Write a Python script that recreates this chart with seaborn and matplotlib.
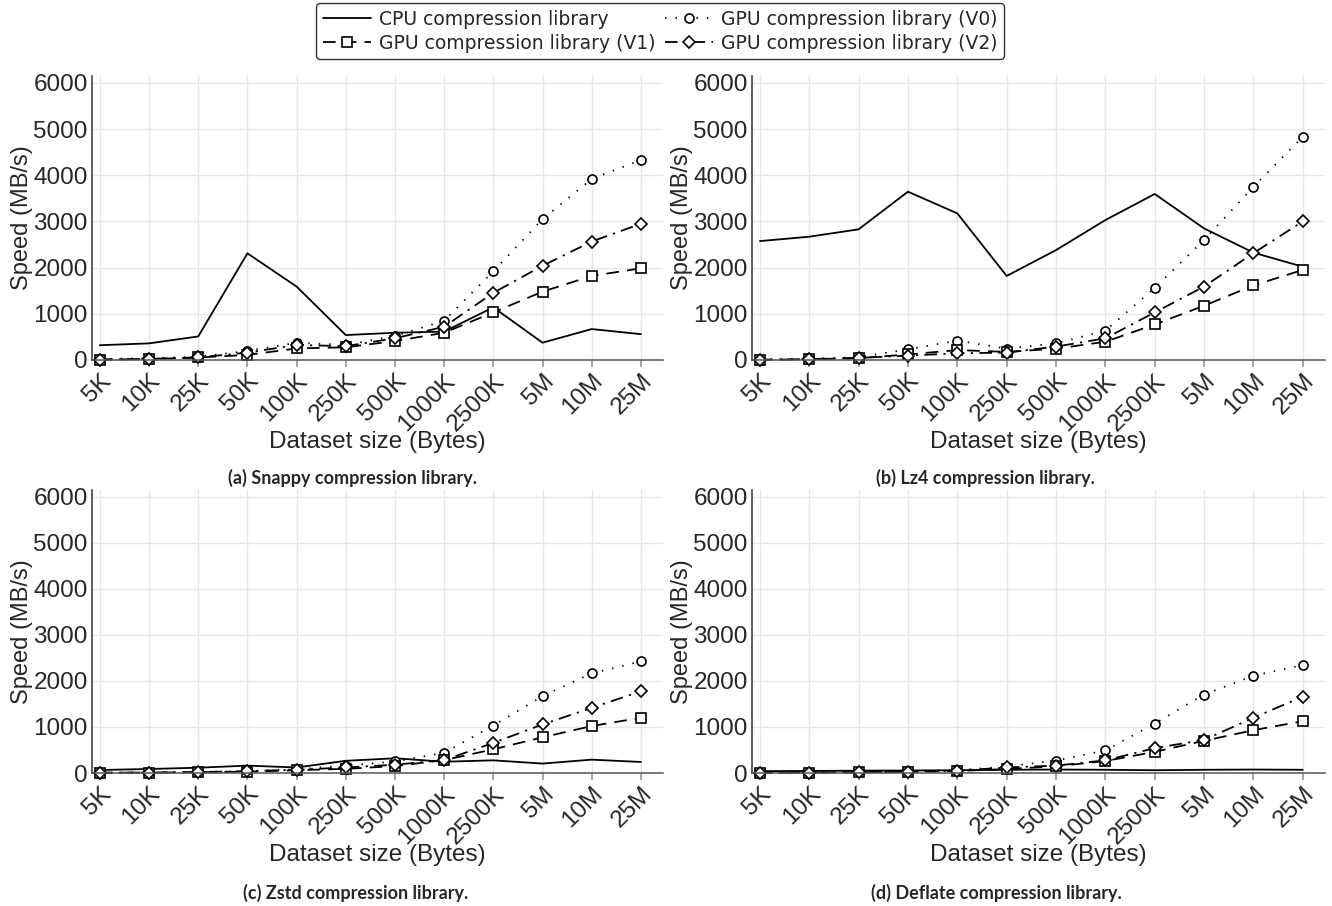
import numpy as np
import pandas as pd
import matplotlib
matplotlib.use("Agg")
import matplotlib.pyplot as plt
import seaborn as sns

sizes = ["5K", "10K", "25K", "50K", "100K", "250K", "500K", "1000K", "2500K", "5M", "10M", "25M"]
series_names = ["CPU compression library", "GPU compression library (V0)",
                "GPU compression library (V1)", "GPU compression library (V2)"]

# (a) Snappy
snappy_cpu = [320, 360, 510, 2310, 1590, 540, 590, 615, 1140, 375, 670, 560]
snappy_v0 = [20, 40, 70, 195, 375, 325, 520, 850, 1920, 3050, 3920, 4330]
snappy_v1 = [10, 20, 55, 110, 250, 275, 410, 590, 1030, 1480, 1820, 1985]
snappy_v2 = [10, 25, 55, 160, 325, 300, 470, 720, 1455, 2040, 2565, 2950]

# (b) Lz4
lz4_cpu = [2575, 2670, 2830, 3645, 3175, 1820, 2380, 3030, 3595, 2850, 2325, 2020]
lz4_v0 = [10, 30, 60, 230, 420, 245, 360, 635, 1560, 2600, 3750, 4835]
lz4_v1 = [5, 15, 40, 120, 215, 175, 245, 395, 770, 1175, 1615, 1950]
lz4_v2 = [5, 20, 45, 95, 145, 160, 290, 470, 1030, 1590, 2315, 3000]

# (c) Zstd
zstd_cpu = [65, 87, 115, 160, 120, 265, 320, 245, 275, 205, 290, 240]
zstd_v0 = [5, 10, 20, 40, 80, 160, 250, 440, 1030, 1670, 2165, 2425]
zstd_v1 = [5, 10, 15, 30, 60, 90, 150, 280, 515, 775, 1020, 1200]
zstd_v2 = [5, 10, 20, 40, 70, 120, 180, 280, 655, 1055, 1415, 1775]

# (d) Deflate
deflate_cpu = [40, 45, 50, 55, 60, 70, 75, 70, 60, 70, 75, 70]
deflate_v0 = [5, 10, 20, 35, 60, 140, 270, 490, 1075, 1705, 2115, 2345]
deflate_v1 = [5, 10, 15, 25, 45, 85, 145, 260, 460, 700, 930, 1125]
deflate_v2 = [5, 10, 15, 30, 50, 120, 160, 275, 540, 720, 1200, 1660]

captions = ["(a) Snappy compression library.", "(b) Lz4 compression library.",
            "(c) Zstd compression library.", "(d) Deflate compression library."]
y_ticks = [0, 1000, 2000, 3000, 4000, 5000, 6000]

panels = [
    [snappy_cpu, snappy_v0, snappy_v1, snappy_v2],
    [lz4_cpu, lz4_v0, lz4_v1, lz4_v2],
    [zstd_cpu, zstd_v0, zstd_v1, zstd_v2],
    [deflate_cpu, deflate_v0, deflate_v1, deflate_v2],
]

sns.set_theme(style="white")
plt.rcParams["font.family"] = ["Liberation Sans", "DejaVu Sans"]

styles = [
    dict(linestyle="-", marker=None),
    dict(linestyle=(0, (0.8, 5.0)), marker="o", markersize=6.5),
    dict(linestyle=(0, (7, 4.5)), marker="s", markersize=7),
    dict(linestyle=(0, (7, 3.5, 1.2, 3.5)), marker="D", markersize=6),
]

fig = plt.figure(figsize=(13.32, 9.06), dpi=100)
W, H = 1332, 906
boxes = [(92, 76, 663, 360), (752, 76, 1325, 360),
         (92, 490, 663, 773), (752, 490, 1325, 773)]
cap_pos = [(352, 478), (985, 478), (356, 893), (996, 893)]

xpos = np.arange(len(sizes))
first_ax = None
for i, (box, vals) in enumerate(zip(boxes, panels)):
    l, t, r, b = box
    ax = fig.add_axes([l / W, 1 - b / H, (r - l) / W, (b - t) / H])
    for name, v, st in zip(series_names, vals, styles):
        df = pd.DataFrame({"x": xpos, "y": v})
        kw = dict(color="black", linewidth=1.3, linestyle=st["linestyle"])
        if st["marker"]:
            kw.update(marker=st["marker"], markersize=st["markersize"],
                      markerfacecolor="white", markeredgecolor="black",
                      markeredgewidth=1.2)
        sns.lineplot(data=df, x="x", y="y", ax=ax, label=name, clip_on=False, **kw)
    if ax.get_legend():
        ax.get_legend().remove()
    if first_ax is None:
        first_ax = ax
    ax.set_xlim(-0.16, 11.45)
    ax.set_ylim(0, 6150)
    ax.set_xticks(xpos)
    ax.set_xticklabels(sizes, rotation=45, ha="right", rotation_mode="anchor", fontsize=17.5)
    ax.set_yticks(y_ticks)
    ax.set_yticklabels([str(v) for v in y_ticks], fontsize=17.5)
    ax.grid(True, color="#e6e6e6", linewidth=1)
    ax.set_axisbelow(True)
    for s in ["top", "right"]:
        ax.spines[s].set_visible(False)
    ax.spines["left"].set_color("#333333")
    ax.spines["bottom"].set_color("#555555")
    ax.spines["left"].set_linewidth(1.1)
    ax.spines["bottom"].set_linewidth(1.1)
    ax.tick_params(axis="x", length=5, color="#999999", pad=2, bottom=True)
    ax.tick_params(axis="y", length=0, pad=3)
    ax.set_xlabel("Dataset size (Bytes)", fontsize=17.5, labelpad=-3)
    ax.set_ylabel("Speed (MB/s)", fontsize=17, labelpad=0)
    cx, cy = cap_pos[i]
    fig.text(cx / W, 1 - cy / H, captions[i], ha="center", va="center",
             fontsize=13, fontweight="bold", family=["Lato", "DejaVu Sans"])

lines = first_ax.get_lines()
handles = [lines[0], lines[2], lines[1], lines[3]]
labels = [series_names[0], series_names[2], series_names[1], series_names[3]]
leg = fig.legend(handles, labels, loc="upper center", bbox_to_anchor=(660 / W, 1 + 6 / H),
                 ncol=2, frameon=True, fancybox=True, edgecolor="black",
                 prop={"family": "DejaVu Sans", "size": 13.5}, handlelength=2.6,
                 columnspacing=0.5, handletextpad=0.4, labelspacing=0.25, borderpad=0.35)
leg.get_frame().set_linewidth(1.0)

fig.savefig("out.png", dpi=100)
